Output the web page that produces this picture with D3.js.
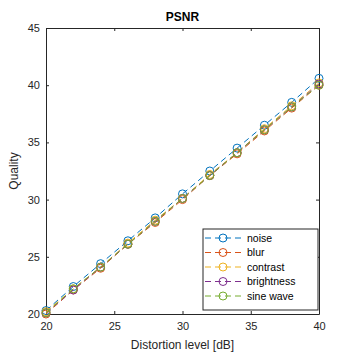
<!DOCTYPE html>
<html>
<head>
<meta charset="utf-8">
<script src="https://cdn.jsdelivr.net/npm/d3@7"></script>
<style>
  body { margin: 0; background: #fff; }
  svg { display: block; font-family: "Liberation Sans", Arial, sans-serif; }
</style>
</head>
<body>
<svg width="354" height="354"></svg>
<script>
const levels = [20, 22, 24, 26, 28, 30, 32, 34, 36, 38, 40];
const seriesNames = ["noise", "blur", "contrast", "brightness", "sine wave"];
const noise      = [20.3, 22.4, 24.4, 26.4, 28.4, 30.5, 32.5, 34.5, 36.5, 38.5, 40.6];
const blur       = [20.0, 22.1, 24.0, 26.1, 28.0, 30.0, 32.1, 34.0, 36.0, 38.0, 40.0];
const contrast   = [20.2, 22.2, 24.1, 26.2, 28.2, 30.1, 32.2, 34.1, 36.2, 38.2, 40.2];
const brightness = [20.1, 22.1, 24.1, 26.1, 28.1, 30.1, 32.1, 34.1, 36.1, 38.1, 40.1];
const sineWave   = [20.1, 22.2, 24.1, 26.1, 28.1, 30.1, 32.1, 34.1, 36.1, 38.1, 40.0];
const xTicks = [20, 25, 30, 35, 40];
const yTicks = [20, 25, 30, 35, 40, 45];

const colors = ["#0072BD", "#D95319", "#EDB120", "#7E2F8E", "#77AC30"];
const series = [noise, blur, contrast, brightness, sineWave].map((vals, i) => ({
  name: seriesNames[i],
  color: colors[i],
  points: vals.map((v, j) => ({ x: levels[j], y: v }))
}));

const svg = d3.select("svg");
const mLeft = 46, mRight = 319, mTop = 28, mBottom = 314;

const x = d3.scaleLinear().domain([20, 40]).range([mLeft, mRight]);
const y = d3.scaleLinear().domain([20, 45]).range([mBottom, mTop]);

// Eixos com ticks para dentro
const axisColor = "#262626";
const tickLen = 3;

const gx = svg.append("g").attr("transform", `translate(0,${mBottom})`)
  .call(d3.axisBottom(x).tickValues(xTicks).tickSizeInner(-tickLen).tickSizeOuter(0).tickPadding(8));
const gxTop = svg.append("g").attr("transform", `translate(0,${mTop})`)
  .call(d3.axisTop(x).tickValues(xTicks).tickSizeInner(-tickLen).tickSizeOuter(0).tickFormat(""));
const gy = svg.append("g").attr("transform", `translate(${mLeft},0)`)
  .call(d3.axisLeft(y).tickValues(yTicks).tickSizeInner(-tickLen).tickSizeOuter(0).tickPadding(6));
const gyRight = svg.append("g").attr("transform", `translate(${mRight},0)`)
  .call(d3.axisRight(y).tickValues(yTicks).tickSizeInner(-tickLen).tickSizeOuter(0).tickFormat(""));

[gx, gxTop, gy, gyRight].forEach(g => {
  g.select(".domain").attr("stroke", axisColor).attr("stroke-width", 1);
  g.selectAll(".tick line").attr("stroke", axisColor);
  g.selectAll(".tick text").attr("fill", axisColor).attr("font-size", 11);
});

// Linhas
const line = d3.line().x(d => x(d.x)).y(d => y(d.y));

const plot = svg.append("g");
series.forEach(s => {
  plot.append("path")
    .datum(s.points)
    .attr("fill", "none")
    .attr("stroke", s.color)
    .attr("stroke-width", 1)
    .attr("stroke-dasharray", "6,4")
    .attr("d", line);
  plot.selectAll(null)
    .data(s.points)
    .join("circle")
    .attr("cx", d => x(d.x))
    .attr("cy", d => y(d.y))
    .attr("r", 4)
    .attr("fill", "none")
    .attr("stroke", s.color)
    .attr("stroke-width", 1);
});

// Títulos
svg.append("text")
  .attr("x", (mLeft + mRight) / 2).attr("y", 21)
  .attr("text-anchor", "middle")
  .attr("font-size", 12).attr("font-weight", "bold")
  .attr("fill", "#000")
  .text("PSNR");

svg.append("text")
  .attr("x", (mLeft + mRight) / 2).attr("y", 349)
  .attr("text-anchor", "middle")
  .attr("font-size", 12).attr("fill", axisColor)
  .text("Distortion level [dB]");

svg.append("text")
  .attr("transform", `translate(18,${(mTop + mBottom) / 2}) rotate(-90)`)
  .attr("text-anchor", "middle")
  .attr("font-size", 12).attr("fill", axisColor)
  .text("Quality");

// Legenda
const lg = svg.append("g").attr("transform", "translate(203,229)");
lg.append("rect")
  .attr("width", 115).attr("height", 81)
  .attr("fill", "#fff").attr("stroke", axisColor).attr("stroke-width", 1);

const item = lg.selectAll("g.item")
  .data(series)
  .join("g")
  .attr("class", "item")
  .attr("transform", (d, i) => `translate(0,${9 + i * 14.5})`);

item.append("line")
  .attr("x1", 2).attr("x2", 40)
  .attr("stroke", d => d.color)
  .attr("stroke-dasharray", "6,4");
item.append("circle")
  .attr("cx", 20).attr("r", 4)
  .attr("fill", "none").attr("stroke", d => d.color);
item.append("text")
  .attr("x", 44).attr("dy", "0.35em")
  .attr("font-size", 10.5).attr("fill", "#000")
  .text(d => d.name);
</script>
</body>
</html>
